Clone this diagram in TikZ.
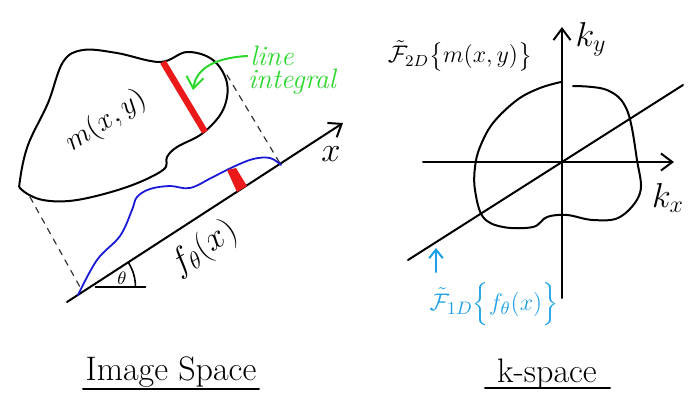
\documentclass[tikz,border=0pt]{standalone}
\usepackage{amsmath}
\usetikzlibrary{arrows.meta,calc}
\definecolor{inkred}{RGB}{235,25,25}
\definecolor{inkgreen}{RGB}{45,215,45}
\definecolor{inkblue}{RGB}{25,25,215}
\definecolor{inkcyan}{RGB}{30,160,230}

\begin{document}
\begin{tikzpicture}[
  x=0.5pt, y=-0.5pt,
  line width=1pt, line join=round, line cap=round,
  >={Straight Barb[length=2mm,width=3mm]},
  axisline/.style={->, line width=1pt, black},
  proj/.style={dashed, line width=0.6pt, black!80},
  strip/.style={draw=inkred, line width=3.2pt, line cap=butt},
  mlbl/.style={font=\fontsize{15}{17}\selectfont, inner sep=1pt},
  note/.style={font=\fontsize{14}{16}\selectfont\itshape, text=inkgreen, inner sep=1pt},
  title/.style={font=\fontsize{17}{20}\selectfont, inner sep=1pt, anchor=base},
]
\useasboundingbox (0,0) rectangle (698,419);

% ---- image space: projection axis ----
\coordinate (xa) at (67,302);
\coordinate (xb) at (343,123);
\draw[axisline] (xa) -- (xb);
\node[mlbl, font=\fontsize{17}{20}\selectfont] (xlbl) at (331,154) {$x$};
\node[mlbl, rotate=33, font=\fontsize{18}{20}\selectfont] (flbl) at (204,248) {$f_\theta(x)$};

% ---- angle theta ----
\coordinate (th) at ($(xa)!0.085!(xb)$);
\coordinate (thh) at ($(th)+(55,0)$);
\draw[line width=0.8pt] ($(th)+(5,0)$) -- (thh);
\draw[line width=0.8pt] ($(th)+(45,0)$) arc[start angle=0, end angle=-33, radius=45];
\node[mlbl, font=\fontsize{9}{11}\selectfont] (thlbl) at (122,278) {$\theta$};

% ---- object m(x,y) ----
\draw plot[smooth cycle, tension=0.6] coordinates {
  (20,180) (28,145) (48,103) (63,62) (83,50) (117,53) (160,62) (187,52)
  (213,60) (227,83) (223,110) (203,133) (177,147) (167,157) (163,170)
  (127,187) (77,200) (43,200) (22,190)};
\node[mlbl, rotate=33] (mlbl) at (106,121) {$m(x,y)$};
\coordinate (ra) at (163,62);
\coordinate (rb) at (205,132);
\draw[strip] (ra) -- (rb);

% ---- projection lines ----
\coordinate (pl1) at (30,197);
\coordinate (pl2) at (80,287);
\coordinate (pr1) at (227,75);
\coordinate (pr2) at (281,165);
\draw[proj] (pl1) -- (pl2);
\draw[proj] (pr1) -- (pr2);

% ---- projection profile ----
\draw[inkblue, line width=0.9pt] plot[smooth, tension=0.6] coordinates {
  (78,295) (97,260) (120,236) (132,210) (137,197) (150,189) (170,186)
  (190,188) (213,177) (233,167) (253,159) (270,158) (281,165)};
\fill[inkred] (227,170) -- (236,168) -- (247,186) -- (237,192) -- cycle;

% ---- note ----
\node[note] (li1) at (272,56) {line};
\node[note] (li2) at (292,82) {integral};
\coordinate (lia) at (193,90);
\draw[->, inkgreen, line width=1pt] (li1.west) .. controls (212,58) and (196,70) .. (lia);

% ---- k-space axes ----
\coordinate (o) at (562,162);
\coordinate (kyb) at (562,298);
\coordinate (kyt) at (562,27);
\coordinate (kxl) at (423,162);
\coordinate (kxr) at (674,162);
\draw[axisline] (kyb) -- (kyt);
\draw[axisline] (kxl) -- (kxr);
\node[mlbl, font=\fontsize{17}{20}\selectfont] (kylbl) at (591,39) {$k_y$};
\node[mlbl, font=\fontsize{17}{20}\selectfont] (kxlbl) at (668,198) {$k_x$};
\coordinate (sa) at (408,260);
\coordinate (sb) at (683,85);
\draw (sa) -- (sb);

% ---- k-space spectrum ----
\draw plot[smooth, tension=0.6] coordinates {
  (573,86) (607,90) (627,110) (637,160) (640,193) (620,217) (593,220)
  (567,215) (547,217) (533,227) (503,227) (483,217) (475,190) (475,167)
  (480,147) (493,123) (517,100) (540,88) (561,82)};
\node[mlbl, font=\fontsize{12}{14}\selectfont] (f2d) at (460,56)
  {$\tilde{\mathcal{F}}_{2D}\big\{m(x,y)\big\}$};
\node[mlbl, font=\fontsize{12.5}{14}\selectfont, text=inkcyan] (f1d) at (494,304)
  {$\tilde{\mathcal{F}}_{1D}\Big\{f_\theta(x)\Big\}$};
\coordinate (ca) at (436,272);
\coordinate (cb) at (436,248);
\draw[->, inkcyan, line width=1pt, >={Straight Barb[length=1.5mm,width=2.4mm]}] (ca) -- (cb);

% ---- titles ----
\node[title] (imgsp) at (171,380) {Image Space};
\node[title] (ksp) at (547,382) {k-space};
\coordinate (u1a) at (83,389);
\coordinate (u1b) at (259,389);
\coordinate (u2a) at (485,388);
\coordinate (u2b) at (610,388);
\draw (u1a) -- (u1b);
\draw (u2a) -- (u2b);
\end{tikzpicture}
\end{document}
